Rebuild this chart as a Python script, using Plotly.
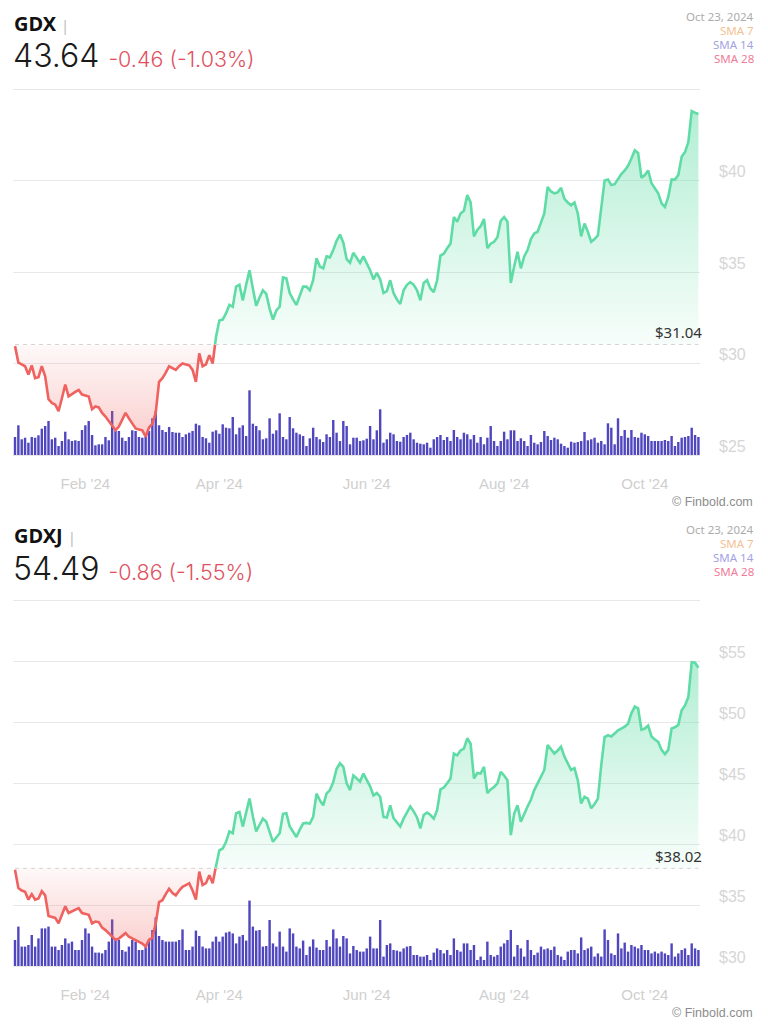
import numpy as np
import pandas as pd
import plotly.graph_objects as go

# ---------------- data ----------------
holidays_2024 = ["2024-01-15", "2024-02-19", "2024-03-29", "2024-05-27",
                 "2024-06-19", "2024-07-04", "2024-09-02"]
trade_dates = pd.bdate_range("2024-01-02", "2024-10-23", freq="C", holidays=holidays_2024)

tick_months = [2, 4, 6, 8, 10]

gdx_prev_close = 31.04
gdxj_prev_close = 38.02

gdx_close = [
    30.95, 30.05, 29.95, 29.85, 29.40, 29.90, 29.20, 29.25, 29.85, 29.30,
    28.05, 27.85, 27.75, 27.40, 28.10, 28.85, 28.20, 28.35, 28.45, 28.55,
    28.30, 28.25, 28.20, 27.50, 27.65, 27.60, 27.30, 27.10, 26.85, 26.60,
    26.35, 26.55, 26.90, 27.30, 27.00, 26.70, 26.45, 26.40, 26.35, 26.00,
    26.50, 26.70, 27.30, 29.00, 29.20, 29.50, 29.85, 29.75, 29.65, 29.85,
    30.00, 29.95, 29.90, 29.65, 29.00, 30.55, 29.85, 29.95, 30.45, 30.00,
    31.45, 32.35, 32.40, 32.75, 33.20, 33.10, 34.20, 34.30, 33.45, 34.30,
    35.10, 34.10, 33.15, 33.60, 34.00, 33.80, 33.00, 32.40, 32.90, 33.10,
    34.70, 34.65, 33.85, 33.50, 33.20, 33.70, 34.20, 34.20, 34.00, 34.55,
    35.75, 35.30, 35.20, 35.85, 35.80, 36.20, 36.70, 37.05, 36.60, 35.70,
    35.50, 36.05, 35.75, 35.50, 35.85, 35.50, 35.10, 34.60, 34.95, 34.60,
    33.85, 33.95, 34.55, 33.85, 33.50, 33.25, 34.00, 34.30, 34.45, 34.30,
    34.00, 33.45, 34.40, 34.55, 34.10, 33.90, 34.55, 35.90, 36.00, 36.30,
    36.55, 38.00, 37.75, 38.20, 38.35, 39.20, 38.80, 36.95, 37.30, 37.50,
    37.90, 36.30, 36.55, 36.65, 36.90, 37.80, 38.00, 37.75, 34.40, 35.30,
    36.10, 35.20, 35.85, 36.20, 36.80, 37.10, 37.20, 37.70, 38.20, 39.65,
    39.40, 39.30, 39.35, 39.60, 39.00, 38.80, 38.65, 38.80, 38.20, 36.95,
    37.65, 37.20, 36.65, 36.80, 37.00, 38.50, 40.00, 40.05, 39.75, 39.80,
    40.10, 40.35, 40.55, 40.80, 41.20, 41.65, 41.50, 40.15, 40.30, 40.55,
    39.85, 39.55, 39.30, 38.75, 38.55, 39.10, 40.05, 40.05, 40.30, 41.30,
    41.55, 42.10, 43.80, 43.70, 43.64,
]

gdx_volume_m = [
    18.0, 29.7, 15.7, 17.3, 12.3, 18.0, 17.3, 19.7, 26.3, 29.0,
    34.0, 15.7, 17.3, 9.0, 14.0, 23.3, 15.7, 14.0, 14.7, 14.0,
    25.0, 29.7, 34.0, 20.0, 9.7, 10.7, 10.7, 18.0, 14.7, 44.0,
    24.0, 24.0, 17.3, 14.0, 18.0, 24.7, 24.0, 18.0, 17.3, 18.0,
    24.0, 36.7, 44.0, 29.7, 25.0, 23.0, 28.0, 23.0, 22.3, 22.3,
    18.0, 20.7, 22.3, 24.0, 31.3, 29.7, 18.0, 16.7, 12.3, 23.3,
    24.7, 21.3, 30.7, 27.3, 26.7, 38.0, 20.7, 27.3, 29.7, 19.0,
    64.7, 31.3, 29.0, 24.7, 15.7, 16.7, 36.7, 21.3, 24.7, 41.7,
    18.0, 15.7, 38.0, 26.7, 22.3, 20.7, 19.0, 9.0, 16.7, 27.3,
    18.0, 15.7, 13.0, 20.7, 18.0, 35.0, 22.3, 14.0, 34.0, 29.0,
    10.7, 17.3, 17.3, 14.0, 14.7, 16.3, 29.0, 15.7, 24.7, 45.7,
    12.3, 15.7, 22.3, 20.7, 14.0, 13.3, 18.0, 20.0, 22.3, 15.7,
    12.3, 11.3, 10.7, 12.3, 7.3, 15.7, 18.0, 20.0, 15.0, 18.0,
    14.0, 25.0, 18.0, 15.7, 22.3, 20.7, 15.7, 20.0, 12.3, 18.0,
    10.7, 17.3, 29.0, 14.0, 9.0, 14.0, 23.3, 15.7, 24.7, 24.7,
    14.0, 16.7, 14.0, 9.0, 20.0, 12.3, 10.7, 13.0, 24.0, 19.0,
    15.0, 17.3, 15.7, 11.3, 9.0, 7.3, 13.3, 12.3, 13.0, 14.0,
    23.0, 14.7, 15.7, 17.3, 12.3, 14.0, 10.7, 31.7, 27.3, 10.7,
    36.7, 19.0, 25.0, 17.3, 25.0, 18.0, 17.3, 22.3, 20.7, 19.0,
    14.0, 14.0, 14.0, 14.0, 15.0, 14.0, 19.0, 9.0, 13.0, 17.3,
    18.0, 19.0, 27.3, 20.0, 18.0,
]

gdxj_close = [
    37.90, 36.40, 36.20, 36.10, 35.45, 35.90, 35.45, 35.55, 36.15, 35.80,
    34.10, 34.00, 33.95, 33.50, 34.20, 34.90, 34.35, 34.50, 34.60, 34.75,
    34.35, 34.30, 34.20, 33.50, 33.65, 33.60, 33.15, 32.95, 32.70, 32.40,
    32.15, 32.25, 32.50, 32.70, 32.40, 32.25, 32.15, 32.00, 31.85, 31.60,
    32.15, 32.30, 33.50, 35.25, 35.40, 35.90, 36.35, 36.00, 35.80, 36.20,
    36.50, 36.65, 36.80, 36.20, 35.45, 37.75, 36.65, 36.80, 37.45, 36.80,
    38.20, 39.50, 39.65, 40.20, 41.05, 40.90, 42.55, 42.65, 41.45, 42.60,
    43.75, 42.30, 41.05, 41.60, 42.10, 41.85, 41.00, 40.20, 40.55, 40.90,
    42.50, 42.55, 41.45, 41.00, 40.60, 41.20, 41.70, 41.75, 41.70, 42.25,
    44.15, 43.60, 43.20, 44.15, 44.45, 45.10, 46.20, 46.65, 46.35, 45.00,
    44.45, 45.65, 45.40, 45.15, 45.80, 45.30, 44.75, 44.00, 44.20, 43.90,
    42.25, 42.20, 43.20, 42.15, 41.80, 41.45, 42.10, 42.60, 43.10, 42.70,
    42.20, 41.30, 42.40, 42.60, 42.40, 42.10, 42.80, 44.50, 44.65, 45.00,
    45.40, 47.45, 47.30, 47.70, 47.85, 48.70, 48.25, 45.40, 45.85, 45.80,
    46.35, 44.20, 44.50, 44.70, 45.00, 45.95, 45.65, 45.25, 40.75, 42.50,
    43.20, 41.85, 42.55, 43.10, 43.65, 44.45, 45.00, 45.55, 46.10, 48.15,
    47.75, 47.45, 47.70, 48.00, 47.20, 46.60, 46.10, 46.25, 45.25, 43.35,
    43.90, 43.75, 42.95, 43.30, 43.75, 46.50, 48.80, 48.95, 48.85, 49.10,
    49.35, 49.50, 49.65, 49.90, 50.75, 51.30, 51.15, 49.40, 49.50, 49.75,
    48.85, 48.60, 48.40, 47.75, 47.40, 47.75, 49.50, 49.60, 49.80, 51.00,
    51.40, 52.10, 54.95, 54.90, 54.49,
]

gdxj_volume_m = [
    13.0, 19.7, 9.7, 9.7, 10.5, 15.5, 9.7, 13.8, 18.8, 18.8,
    19.7, 9.7, 9.7, 8.0, 10.5, 13.8, 11.3, 12.2, 8.0, 8.0,
    13.0, 18.8, 16.3, 9.7, 6.7, 6.7, 6.3, 8.0, 12.2, 23.3,
    13.8, 13.0, 8.0, 7.2, 9.7, 13.0, 12.2, 8.0, 8.0, 9.7,
    13.0, 18.0, 24.3, 15.0, 13.0, 12.2, 12.2, 12.2, 12.2, 13.0,
    18.3, 8.0, 8.0, 9.7, 17.7, 15.0, 9.7, 8.8, 8.8, 12.2,
    14.7, 12.2, 14.7, 16.7, 17.2, 16.3, 11.3, 14.7, 15.5, 12.7,
    32.7, 19.7, 17.7, 18.0, 9.7, 10.0, 23.0, 11.3, 9.7, 17.2,
    9.7, 7.2, 18.8, 16.3, 9.7, 8.8, 12.7, 5.5, 9.7, 13.3,
    9.2, 8.0, 8.0, 13.0, 9.7, 18.3, 13.8, 9.7, 15.0, 13.8,
    6.3, 10.0, 8.0, 7.2, 7.2, 8.8, 14.7, 8.8, 8.8, 23.0,
    4.7, 10.5, 11.3, 8.0, 7.7, 7.2, 8.8, 9.7, 10.0, 5.5,
    5.5, 4.7, 4.7, 5.5, 3.0, 6.7, 8.8, 8.0, 6.3, 8.0,
    5.5, 13.8, 8.0, 7.2, 11.3, 11.3, 8.0, 10.5, 3.0, 4.7,
    3.0, 12.2, 5.5, 4.7, 5.5, 9.7, 11.3, 13.0, 18.0, 4.7,
    10.5, 8.8, 4.7, 13.0, 8.0, 5.5, 6.7, 9.7, 8.3, 8.8,
    8.0, 9.7, 5.5, 4.7, 3.0, 7.2, 8.0, 8.0, 6.3, 14.3,
    8.0, 8.8, 9.7, 4.7, 6.3, 4.7, 18.3, 13.0, 6.3, 5.5,
    16.3, 8.8, 11.7, 7.2, 10.5, 9.7, 8.8, 10.5, 8.0, 8.0,
    6.3, 7.2, 6.3, 7.2, 6.3, 5.5, 11.3, 4.7, 6.3, 8.0,
    8.8, 5.5, 11.3, 8.8, 8.0,
]

gdx_header = {"ticker": "GDX", "last": "43.64", "change": "-0.46 (-1.03%)"}
gdxj_header = {"ticker": "GDXJ", "last": "54.49", "change": "-0.86 (-1.55%)"}

gdx_price_ticks = [25, 30, 35, 40, 45]
gdxj_price_ticks = [30, 35, 40, 45, 50, 55, 60]

legend_date = "Oct 23, 2024"
legend_items = ["SMA 7", "SMA 14", "SMA 28"]
legend_colors = ["#f4c193", "#a3a3e3", "#f07c99"]

# ---------------- styling ----------------
W, H = 768, 1024
GREEN = "95,220,165"
RED = "239,98,95"
BAR_COLOR = "#5047bf"
X_LEFT, X_RIGHT = 13, 700
TXT_FONT = "Noto Sans"
AX_FONT = "Liberation Sans"
PAD = 3  # px of breathing room so edge gridlines are drawn

x_idx = np.arange(len(trade_dates))
tickvals = [int(np.argmax(trade_dates.month == m)) for m in tick_months]
ticktext = [trade_dates[i].strftime("%b '%y") for i in tickvals]


def py(px):
    return 1 - px / H


def px_x(px):
    return px / W


def split_runs(x, y, base):
    runs = []
    cx, cy = [x[0]], [y[0]]
    up = y[0] >= base
    for i in range(1, len(y)):
        now_up = y[i] >= base
        if now_up != up:
            t = (base - y[i - 1]) / (y[i] - y[i - 1])
            xc = x[i - 1] + t * (x[i] - x[i - 1])
            cx.append(xc)
            cy.append(base)
            runs.append((up, cx, cy))
            cx, cy = [xc], [base]
            up = now_up
        cx.append(x[i])
        cy.append(y[i])
    runs.append((up, cx, cy))
    return runs


fig = go.Figure()


def add_panel(close, volume, base, xa, ya_vol, ya_px):
    fig.add_trace(go.Bar(
        x=x_idx, y=volume, marker_color=BAR_COLOR, marker_line_width=0,
        width=0.72, xaxis=xa, yaxis=ya_vol, showlegend=False, hoverinfo="skip"))
    for up, rx, ry in split_runs(list(x_idx), close, base):
        fig.add_trace(go.Scatter(
            x=rx, y=[base] * len(rx), mode="lines", line=dict(width=0, color="rgba(0,0,0,0)"),
            xaxis=xa, yaxis=ya_px, showlegend=False, hoverinfo="skip"))
        if up:
            grad = dict(type="vertical", start=base, stop=max(ry),
                        colorscale=[[0, f"rgba({GREEN},0.05)"], [1, f"rgba({GREEN},0.48)"]])
            col = f"rgb({GREEN})"
        else:
            grad = dict(type="vertical", start=min(ry), stop=base,
                        colorscale=[[0, f"rgba({RED},0.30)"], [1, f"rgba({RED},0.04)"]])
            col = f"rgb({RED})"
        fig.add_trace(go.Scatter(
            x=rx, y=ry, mode="lines", line=dict(width=2.6, color=col),
            fill="tonexty", fillgradient=grad,
            xaxis=xa, yaxis=ya_px, showlegend=False, hoverinfo="skip"))
    fig.add_trace(go.Scatter(
        x=[x_idx[0], x_idx[-1]], y=[base, base], mode="lines",
        line=dict(width=1, color="#d4d4d4", dash="4px,4px"),
        xaxis=xa, yaxis=ya_px, showlegend=False, hoverinfo="skip"))
    fig.add_annotation(
        x=x_idx[-1], y=base, xref=xa, yref=ya_px, text=f"${base:.2f}",
        showarrow=False, xanchor="right", yanchor="bottom", xshift=6, yshift=0,
        font=dict(family=TXT_FONT, size=15, color="#333333"))


add_panel(gdx_close, gdx_volume_m, gdx_prev_close, "x", "y", "y2")
add_panel(gdxj_close, gdxj_volume_m, gdxj_prev_close, "x2", "y3", "y4")

xdom = [px_x(X_LEFT), px_x(X_RIGHT)]
xrange = [-0.6, (X_RIGHT - X_LEFT) / 3.35 - 0.6]

xcommon = dict(domain=xdom, range=xrange, tickvals=tickvals, ticktext=ticktext,
               showgrid=False, zeroline=False, showline=False, ticks="",
               tickfont=dict(family=AX_FONT, size=15, color="#cfcfcf"),
               ticklabelstandoff=18 - PAD, automargin=False, fixedrange=True)


def price_axis(ticks, anchor, overlay, top_px, bot_px):
    per_px = (ticks[-1] - ticks[0]) / (bot_px - top_px)
    eps = PAD * per_px
    return dict(overlaying=overlay, side="right", anchor=anchor,
                range=[ticks[0] - eps, ticks[-1] + eps], tickvals=ticks,
                ticktext=[f"${t}" for t in ticks[:-1]] + [""],
                showgrid=True, gridcolor="#e8e8e8", gridwidth=1,
                zeroline=False, showline=False, ticks="",
                tickfont=dict(family=AX_FONT, size=16, color="#d6d6d6"),
                ticklabelshift=-9, ticklabelstandoff=18, automargin=False)


def volume_axis(top_px, bot_px, units_per_px):
    span = bot_px - top_px
    return dict(domain=[py(bot_px + PAD), py(top_px - PAD)],
                range=[-PAD * units_per_px, (span + PAD) * units_per_px],
                visible=False, automargin=False)


fig.update_layout(
    width=W, height=H, margin=dict(l=0, r=0, t=0, b=0, pad=0, autoexpand=False),
    paper_bgcolor="white", plot_bgcolor="white", bargap=0.25, showlegend=False,
    xaxis=dict(anchor="y", **xcommon),
    xaxis2=dict(anchor="y3", **xcommon),
    yaxis=volume_axis(89, 455, 1.0),
    yaxis2=price_axis(gdx_price_ticks, "x", "y", 89, 455),
    yaxis3=volume_axis(600.7, 966, 0.5),
    yaxis4=price_axis(gdxj_price_ticks, "x2", "y3", 600.7, 966),
)


def header(info, y_ticker, y_price, y_legend, y_credit):
    fig.add_annotation(
        x=px_x(12), y=py(y_ticker), xref="paper", yref="paper", xanchor="left", yanchor="middle",
        showarrow=False,
        text=f"<b>{info['ticker']}</b> <span style='color:#b8b8b8;font-size:14px'>|</span>",
        font=dict(family=TXT_FONT, size=20, color="#111111"))
    fig.add_annotation(
        x=px_x(11), y=py(y_price), xref="paper", yref="paper", xanchor="left", yanchor="middle",
        showarrow=False,
        text=f"{info['last']} <span style='color:#e0525f;font-size:21.5px'>{info['change']}</span>",
        font=dict(family="Inter", size=32, color="#1a1a1a", weight=300))
    fig.add_annotation(
        x=px_x(756), y=py(y_legend), xref="paper", yref="paper", xanchor="right", yanchor="middle",
        showarrow=False, text=legend_date,
        font=dict(family=TXT_FONT, size=11.5, color="#ababab"))
    for k, (item, col) in enumerate(zip(legend_items, legend_colors)):
        fig.add_annotation(
            x=px_x(756), y=py(y_legend + 14 * (k + 1)), xref="paper", yref="paper",
            xanchor="right", yanchor="middle", showarrow=False, text=item,
            font=dict(family=TXT_FONT, size=11.5, color=col))
    fig.add_annotation(
        x=px_x(755), y=py(y_credit), xref="paper", yref="paper", xanchor="right", yanchor="middle",
        showarrow=False, text="© Finbold.com",
        font=dict(family=AX_FONT, size=12.5, color="#8c8c8c"))


header(gdx_header, 23, 55, 16, 502)
header(gdxj_header, 535, 568, 529, 1013)

fig.write_html("out.html")
